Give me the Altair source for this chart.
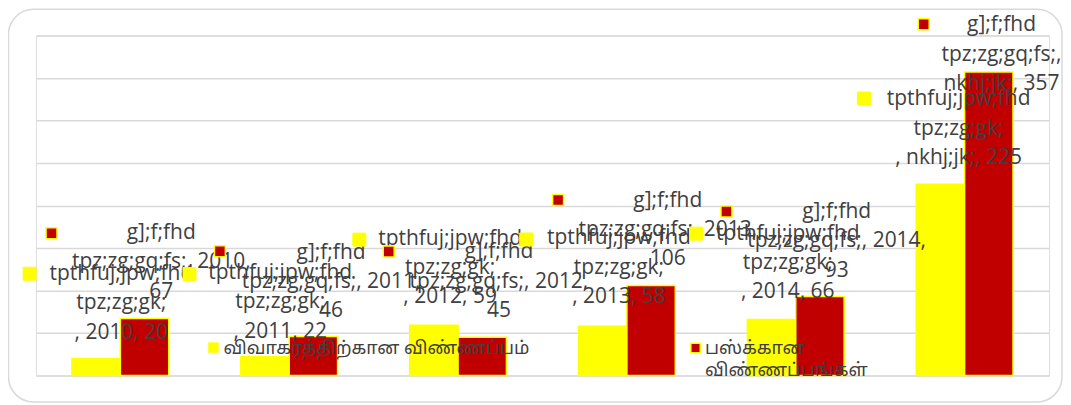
import altair as alt
import pandas as pd

# ---------------- data ----------------
categories = ["2010", "2011", "2012", "2013", "2014", "nkhj;jk;"]
divorce_apps = [20, 22, 59, 58, 66, 225]
bus_apps = [67, 46, 45, 106, 93, 357]
series_names = ["விவாகரத்திற்கான விண்ணப்பம்", "பஸ்க்கான விண்ணப்பங்கள்"]
label_series_names = ["tpthfuj;jpw;fhd tpz;zg;gk;", "g];f;fhd tpz;zg;gq;fs;"]
y_ticks = [0, 50, 100, 150, 200, 250, 300, 350, 400]

# ---------------- styles / layout ----------------
YELLOW = "#FFFF00"
RED = "#C00000"
GRID = "#D9D9D9"
TEXT = "#404040"
LABEL_FONT = "Open Sans"
TAMIL_FONT = "Latha, 'Noto Sans Tamil', 'Noto Serif Tamil', 'Lohit Tamil', sans-serif"
LABEL_SIZE = 21
LINE_H = 29.5

# offsets (px) of each data-label block: x from category centre, y of first line from bar top
yellow_label_dx = [1, -9, -8, -8, -8, -6]
yellow_label_dy = [-85, -84, -87, -88, -86, -85]
red_label_dx = [41, 42, 41, 41, 41, 37]
red_label_dy = [-86, -84, -85, -85, -85, -47]
# offsets (px) of the legend-key squares inside data labels
yellow_key_dx = [-91, -100, -99, -101, -100, -101]
yellow_key_dy = [-85, -83, -86, -87, -86, -86]
red_key_dx = [-69, -69.5, -69.5, -69, -69.5, -41]
red_key_dy = [-85.5, -85.3, -86, -85.6, -85.2, -48]

W, H = 1016, 341

# ---------------- tables ----------------
rows = []
for c, v in zip(categories, divorce_apps):
    rows.append({"cat": c, "series": series_names[0], "value": v})
for c, v in zip(categories, bus_apps):
    rows.append({"cat": c, "series": series_names[1], "value": v})
df = pd.DataFrame(rows)

X = alt.X("cat:N", sort=categories, axis=None,
          scale=alt.Scale(paddingInner=0.427, paddingOuter=0.2135))
Y = alt.Y("value:Q", scale=alt.Scale(domain=[0, 400], nice=False),
          axis=alt.Axis(values=y_ticks, labels=False, ticks=False, domain=False,
                        title=None, grid=True, gridColor=GRID, gridWidth=1.5))

bars = alt.Chart(df).mark_bar(stroke=YELLOW, strokeWidth=1.5).encode(
    x=X,
    xOffset=alt.XOffset("series:N", sort=series_names,
                        scale=alt.Scale(paddingInner=0, paddingOuter=0)),
    y=Y,
    fill=alt.Fill("series:N", scale=alt.Scale(domain=series_names, range=[YELLOW, RED]),
                  legend=None),
)

layers = [bars]

y_w1, y_w2 = label_series_names[0].split(" ")
r_w1, r_w2 = label_series_names[1].split(" ")

for i, c in enumerate(categories):
    # yellow series label
    v = divorce_apps[i]
    txt = "\n".join([y_w1, y_w2, f", {c}, {v}"])
    d = pd.DataFrame({"cat": [c], "value": [v], "label": [txt]})
    layers.append(alt.Chart(d).mark_text(
        align="center", baseline="middle", lineBreak="\n", lineHeight=LINE_H,
        font=LABEL_FONT, fontSize=LABEL_SIZE, color=TEXT,
        dx=yellow_label_dx[i], dy=yellow_label_dy[i]).encode(x=X, y=Y, text="label:N"))
    layers.append(alt.Chart(d).mark_point(
        shape="square", filled=True, fill=YELLOW, stroke=YELLOW, strokeWidth=1,
        size=169, opacity=1, xOffset=yellow_key_dx[i], yOffset=yellow_key_dy[i]
    ).encode(x=X, y=Y))

    # red series label
    v = bus_apps[i]
    if i < len(categories) - 1:
        txt = "\n".join([r_w1, f"{r_w2}, {c},", f"{v}"])
    else:
        txt = "\n".join([r_w1, f"{r_w2},", f"{c}, {v}"])
    d = pd.DataFrame({"cat": [c], "value": [v], "label": [txt]})
    layers.append(alt.Chart(d).mark_text(
        align="center", baseline="middle", lineBreak="\n", lineHeight=LINE_H,
        font=LABEL_FONT, fontSize=LABEL_SIZE, color=TEXT,
        dx=red_label_dx[i], dy=red_label_dy[i]).encode(x=X, y=Y, text="label:N"))
    layers.append(alt.Chart(d).mark_point(
        shape="square", filled=True, fill=RED, stroke=YELLOW, strokeWidth=1.5,
        size=121, opacity=1, xOffset=red_key_dx[i], yOffset=red_key_dy[i]
    ).encode(x=X, y=Y))

# legend (inside the plot, bottom)
leg = pd.DataFrame({"series": series_names,
                    "text": [series_names[0], "\n".join(series_names[1].split(" "))]})
leg_y = leg[leg.series == series_names[0]]
leg_r = leg[leg.series == series_names[1]]
layers.append(alt.Chart(leg_y).mark_point(shape="square", filled=True, fill=YELLOW,
                                          stroke=YELLOW, strokeWidth=0.5, size=100, opacity=1
                                          ).encode(x=alt.value(178), y=alt.value(313)))
layers.append(alt.Chart(leg_y).mark_text(align="left", baseline="middle", font=TAMIL_FONT,
                                         fontSize=18, color=TEXT
                                         ).encode(x=alt.value(188), y=alt.value(314), text="text:N"))
layers.append(alt.Chart(leg_r).mark_point(shape="square", filled=True, fill=RED,
                                          stroke=YELLOW, strokeWidth=1.5, size=90, opacity=1
                                          ).encode(x=alt.value(661.5), y=alt.value(313.5)))
layers.append(alt.Chart(leg_r).mark_text(align="left", baseline="middle", font=TAMIL_FONT,
                                         fontSize=18, color=TEXT, lineBreak="\n", lineHeight=22
                                         ).encode(x=alt.value(671), y=alt.value(314), text="text:N"))

# rounded chart-area frame
frame = alt.Chart(leg_y).mark_rect(cornerRadius=25, fillOpacity=0, stroke=GRID,
                                   strokeWidth=1.5).encode(
    x=alt.value(-27.5), x2=alt.value(1029), y=alt.value(-26.2), y2=alt.value(367.5))

chart = alt.layer(frame, *layers).properties(
    width=W, height=H,
    autosize=alt.AutoSizeParams(type="none"),
    padding={"left": 28, "top": 27, "right": 14, "bottom": 28},
).configure_view(stroke=None).configure(background="white")

chart.save("out.html", embed_options={"renderer": "svg", "actions": False})
